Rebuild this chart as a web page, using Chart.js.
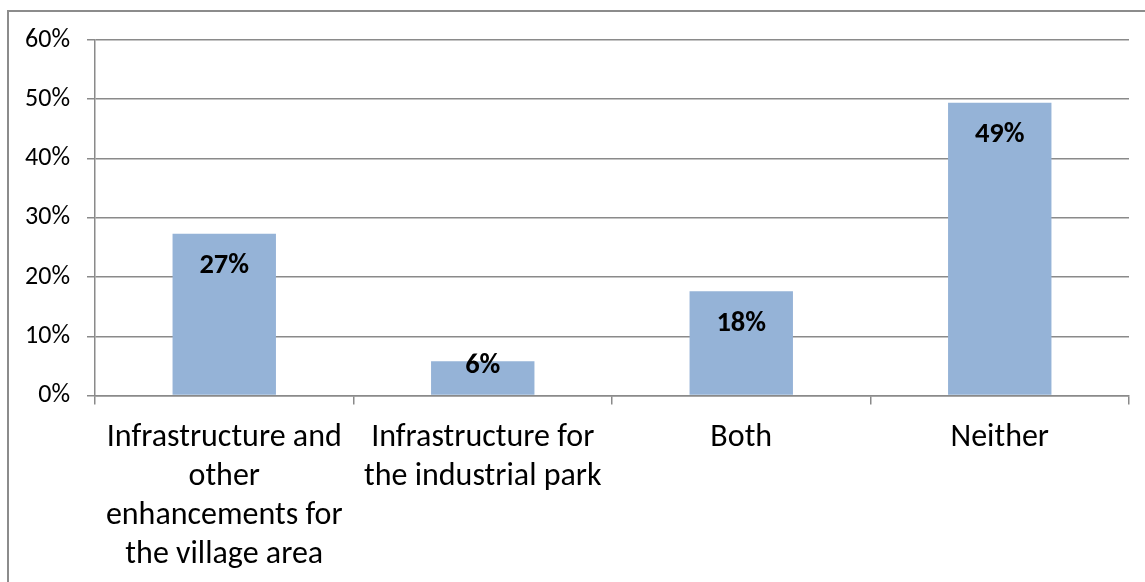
<!DOCTYPE html>
<html>
<head>
<meta charset="utf-8">
<script src="https://cdn.jsdelivr.net/npm/chart.js@4/dist/chart.umd.min.js"></script>
<style>
  html, body { margin: 0; padding: 0; background: #fff; }
  #wrap { position: relative; width: 1145px; height: 582px; overflow: hidden; }
  #frame {
    position: absolute; left: 7px; top: 10px; width: 1200px; height: 640px;
    border-left: 2px solid #8c8c8c; border-top: 2px solid #8c8c8c;
    box-sizing: border-box;
  }
  canvas { position: absolute; left: 0; top: 0; }
</style>
</head>
<body>
<div id="wrap">
  <div id="frame"></div>
  <canvas id="chart" width="1145" height="582"></canvas>
</div>
<script>
// ---------- Data ----------
const CATEGORIES = [
  ['Infrastructure and', 'other', 'enhancements for', 'the village area'],
  ['Infrastructure for', 'the industrial park'],
  'Both',
  'Neither'
];
const SHARES = [27.3, 5.8, 17.6, 49.4]; // percent of respondents
const Y_TICKS = [0, 10, 20, 30, 40, 50, 60];

const FONT = "Carlito, Calibri, 'Open Sans', sans-serif";
const GRID = '#8a8a8a';
const BAR = '#95b3d7';

// value labels near the top inside each bar
const barLabels = {
  id: 'barLabels',
  afterDatasetsDraw(chart) {
    const { ctx } = chart;
    const meta = chart.getDatasetMeta(0);
    ctx.save();
    ctx.font = "bold 28.5px " + FONT;
    ctx.fillStyle = '#000';
    ctx.textAlign = 'center';
    ctx.textBaseline = 'middle';
    meta.data.forEach((bar, i) => {
      // short bars: keep the label clear of the axis
      const y = Math.min(bar.y + 32.5, bar.base - 29);
      ctx.fillText(Math.round(SHARES[i]) + '%', bar.x, y);
    });
    ctx.restore();
  }
};

new Chart(document.getElementById('chart'), {
  type: 'bar',
  data: {
    labels: CATEGORIES,
    datasets: [{
      data: SHARES,
      backgroundColor: BAR,
      borderWidth: 0,
      categoryPercentage: 1,
      barPercentage: 0.4
    }]
  },
  options: {
    responsive: false,
    animation: false,
    events: [],
    layout: { padding: { top: 40, right: 16, left: 0, bottom: 0 } },
    plugins: { legend: { display: false }, tooltip: { enabled: false } },
    scales: {
      y: {
        min: 0,
        max: 60,
        afterBuildTicks: (s) => { s.ticks = Y_TICKS.map(v => ({ value: v })); },
        afterFit: (s) => { s.width = 95; },
        grid: { color: GRID, lineWidth: 1.5, tickLength: 8 },
        border: { color: GRID, width: 1.5 },
        ticks: {
          color: '#000',
          font: { family: FONT, size: 26 },
          padding: 17,
          callback: (v) => v + '%'
        }
      },
      x: {
        afterFit: (s) => { s.height = 186.5; },
        grid: { color: GRID, lineWidth: 1.5, drawOnChartArea: false, tickLength: 9, offset: true },
        border: { color: GRID, width: 1.5 },
        ticks: {
          color: '#000',
          font: { family: FONT, size: 32, lineHeight: 1.22 },
          padding: 14,
          maxRotation: 0,
          autoSkip: false
        }
      }
    }
  },
  plugins: [barLabels]
});
</script>
</body>
</html>
